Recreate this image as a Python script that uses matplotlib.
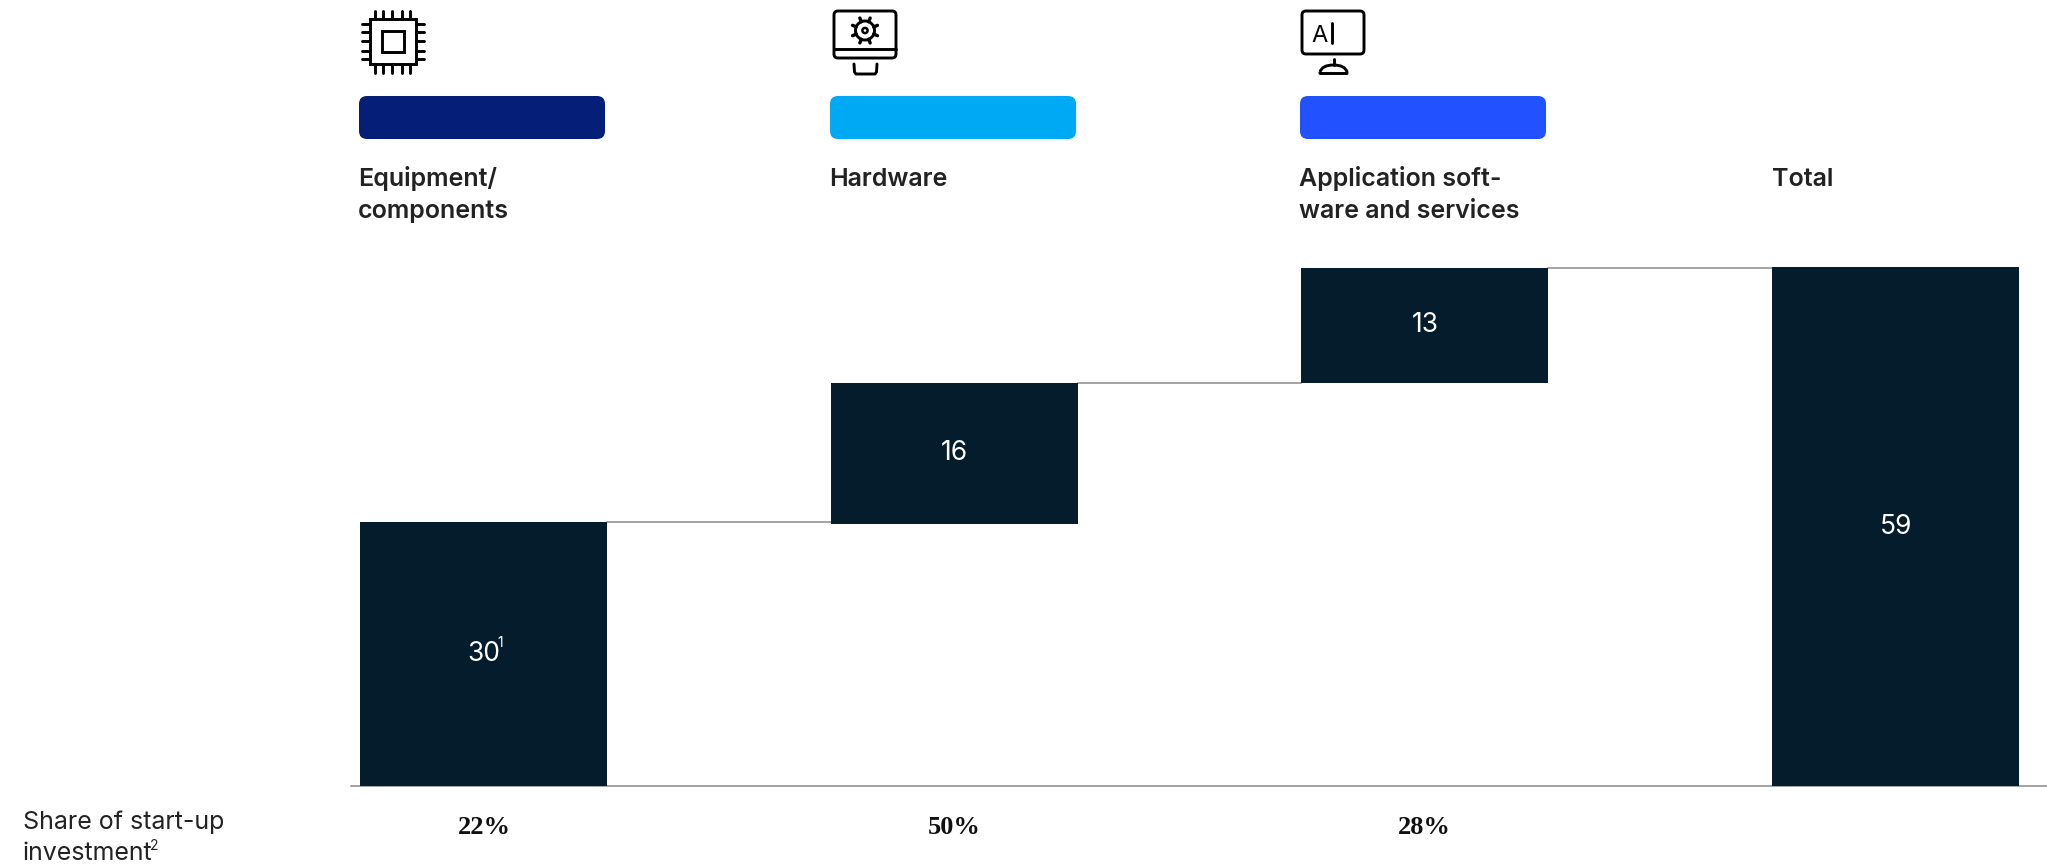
import numpy as np
import matplotlib
matplotlib.use("Agg")
import matplotlib.pyplot as plt
from matplotlib.patches import FancyBboxPatch, Rectangle, Circle, PathPatch
from matplotlib.path import Path

# chart data
categories = ["Equipment/\ncomponents", "Hardware", "Application soft-\nware and services", "Total"]
values = [30, 16, 13, 59]
bottoms = [0, 29.8, 45.85, 0]
value_labels = ["30", "16", "13", "59"]
shares = ["22%", "50%", "28%"]
pill_colors = ["#051F78", "#00A9F4", "#2251FF"]

BAR_COLOR = "#051C2C"
TEXT_COLOR = "#222222"
SANS = "Inter"

fig = plt.figure(figsize=(20.47, 8.64), dpi=100, facecolor="white")
W, H = 2047, 864

# main axes, value scale runs from the baseline up to the top of the total bar
x_min, x_max = -0.2815, 3.3216
ax = fig.add_axes([351 / W, 1 - 786 / H, (W - 351) / W, (786 - 267) / H])
ax.set_xlim(x_min, x_max)
ax.set_ylim(0, 59)
ax.axis("off")

x = np.arange(len(values))
bar_width = 0.525
ax.bar(x, values, bottom=bottoms, width=bar_width, color=BAR_COLOR, linewidth=0, zorder=3)

# baseline + connectors
ax.plot([x_min, x_max], [0, 0], color="#8a8a8a", lw=1.1, zorder=2, clip_on=False)
for i in range(3):
    level = bottoms[i] + values[i]
    ax.plot([i + bar_width / 2, i + 1 - bar_width / 2], [level, level],
            color="#8a8a8a", lw=1.1, zorder=2, clip_on=False)

for i in range(len(values)):
    ax.text(i, bottoms[i] + values[i] / 2, value_labels[i], color="white", fontsize=19,
            family=SANS, weight="normal", ha="center", va="center", zorder=4)
# footnote mark on first bar
ax.text(0.036, 16.3, "1", color="white", fontsize=10, family=SANS, weight="normal",
        ha="center", va="center", zorder=4)

# overlay in pixels for the header and footer
ov = fig.add_axes([0, 0, 1, 1])
ov.set_xlim(0, W)
ov.set_ylim(H, 0)
ov.axis("off")
ov.patch.set_alpha(0)

pill_left = [359, 830, 1300]
for i in range(3):
    ov.add_patch(FancyBboxPatch((pill_left[i] + 8, 104), 246 - 16, 27,
                                boxstyle="round,pad=8,rounding_size=8",
                                fc=pill_colors[i], ec="none"))

label_left = [358, 829, 1299, 1772]
for i in range(4):
    lines = categories[i].split("\n")
    for j in range(len(lines)):
        ov.text(label_left[i], 186 + j * 32, lines[j], fontsize=18, family=SANS, weight="semibold",
                color=TEXT_COLOR, ha="left", va="baseline")

# footer
ov.text(23, 829, "Share of start-up", fontsize=18, family=SANS, weight="normal",
        color=TEXT_COLOR, ha="left", va="baseline")
ov.text(23, 860, "investment", fontsize=18, family=SANS, weight="normal",
        color=TEXT_COLOR, ha="left", va="baseline")
ov.text(150, 850, "2", fontsize=10, family=SANS, weight="normal",
        color=TEXT_COLOR, ha="left", va="baseline")
for i in range(3):
    ov.text(x[i] * 470 + 484, 834, shares[i], fontsize=19, family="Liberation Serif", weight="bold",
            color="#111111", ha="center", va="baseline")

LW = 2.1
ICON = "black"


def seg(xs, ys, lw=LW):
    ov.plot(xs, ys, color=ICON, lw=lw, solid_capstyle="round", solid_joinstyle="round")


def round_box(x0, y0, x1, y1, r=4):
    ov.add_patch(FancyBboxPatch((x0 + r, y0 + r), x1 - x0 - 2 * r, y1 - y0 - 2 * r,
                                boxstyle="round,pad=%d,rounding_size=%d" % (r, r),
                                fc="none", ec=ICON, lw=LW))


# chip icon
ov.add_patch(Rectangle((370, 19), 46, 45, fc="none", ec=ICON, lw=LW))
ov.add_patch(Rectangle((382, 31), 22, 21, fc="none", ec=ICON, lw=LW))
for px in [375, 383.3, 391.7, 401.7, 410]:
    seg([px, px], [11, 19])
    seg([px, px], [64, 73])
for py in [24, 32.3, 40.7, 50.7, 59]:
    seg([362, 370], [py, py])
    seg([416, 424], [py, py])

# monitor with gear
round_box(834, 11, 896, 58)
seg([834, 896], [49, 49])
seg([854, 854.5, 856, 875, 876.5, 877], [64, 72, 74, 74, 72, 64])
gx, gy = 865, 30.5
ov.add_patch(Circle((gx, gy), 9.5, fc="none", ec=ICON, lw=LW))
ov.add_patch(Circle((gx, gy), 2.6, fc="none", ec=ICON, lw=1.8))
for a in np.deg2rad(np.arange(0, 360, 45) + 22.5):
    seg([gx + 9.5 * np.cos(a), gx + 13.5 * np.cos(a)], [gy + 9.5 * np.sin(a), gy + 13.5 * np.sin(a)], lw=2.4)

# monitor with AI
round_box(1302, 11, 1364, 54)
ov.text(1319.5, 42, "A", fontsize=17, family=SANS, color=ICON, ha="center", va="baseline")
seg([1332, 1332], [23, 43])
seg([1333.5, 1333.5], [59, 65])
dome = Path([(1320, 72), (1322, 65), (1333.5, 65), (1345, 65), (1347, 72), (1347, 73.5), (1320, 73.5), (1320, 72)],
            [Path.MOVETO, Path.CURVE3, Path.CURVE3, Path.CURVE3, Path.CURVE3, Path.LINETO, Path.LINETO, Path.LINETO])
ov.add_patch(PathPatch(dome, fc="none", ec=ICON, lw=LW, joinstyle="round"))

fig.savefig("out.png", dpi=100, facecolor="white")
